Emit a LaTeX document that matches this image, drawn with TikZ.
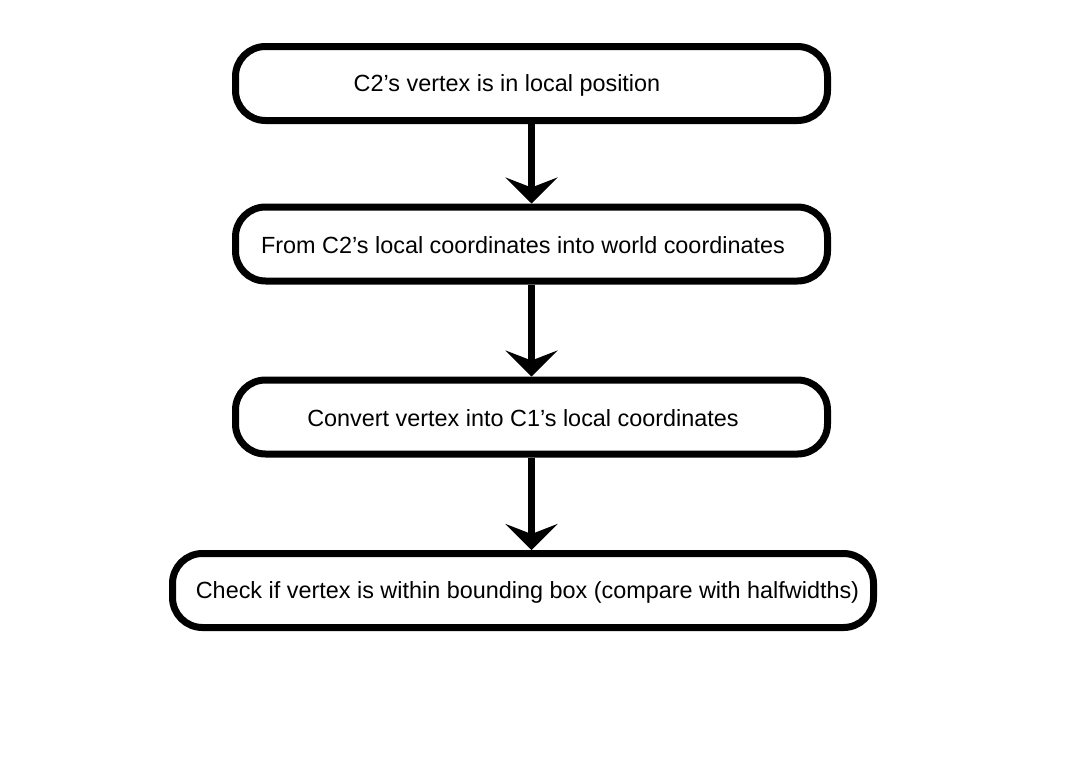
\documentclass[tikz,border=0pt]{standalone}
\usepackage{fontspec}
\setmainfont{Liberation Sans}
\usetikzlibrary{arrows.meta}
\begin{document}
\begin{tikzpicture}[x=1pt,y=-1pt,
  stepbox/.style={draw=black,line width=7pt,rounded corners=30pt,minimum height=74pt,inner sep=0pt},
  lbl/.style={font=\fontsize{23.4pt}{28pt}\selectfont,inner sep=0pt,anchor=center},
  flow/.style={line width=7pt,-{Stealth[length=26pt,width=52pt,inset=10pt]}}]
\useasboundingbox (0,0) rectangle (1080,764);
\fill[white] (0,0) rectangle (1080,764);
\node[stepbox,minimum width=592pt] (b1) at (531.5,83.5) {};
\node[stepbox,minimum width=592pt] (b2) at (531.5,244) {};
\node[stepbox,minimum width=592pt] (b3) at (531.5,417) {};
\node[stepbox,minimum width=701pt] (b4) at (523,590.5) {};
\node[lbl] (t1) at (507,85) {C2’s vertex is in local position};
\node[lbl] (t2) at (523,245) {From C2’s local coordinates into world coordinates};
\node[lbl] (t3) at (523,418) {Convert vertex into C1’s local coordinates};
\node[lbl] (t4) at (527.5,592) {Check if vertex is within bounding box (compare with halfwidths)};
\draw[flow] (b1.south) -- (b2.north);
\draw[flow] (b2.south) -- (b3.north);
\draw[flow] (b3.south) -- (b4.north -| b3.south);
\end{tikzpicture}
\end{document}
